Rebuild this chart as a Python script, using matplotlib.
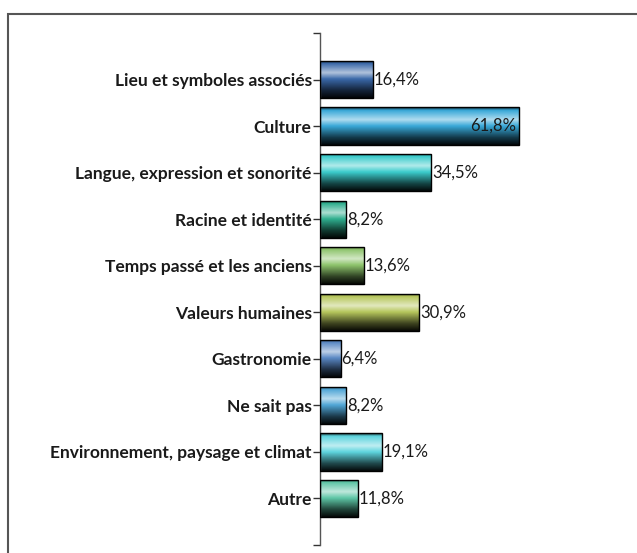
import matplotlib.pyplot as plt
import matplotlib.colors as mcolors
from matplotlib.patches import Rectangle
import numpy as np

categories = [
    "Lieu et symboles associés",
    "Culture",
    "Langue, expression et sonorité",
    "Racine et identité",
    "Temps passé et les anciens",
    "Valeurs humaines",
    "Gastronomie",
    "Ne sait pas",
    "Environnement, paysage et climat",
    "Autre",
]
values = [16.4, 61.8, 34.5, 8.2, 13.6, 30.9, 6.4, 8.2, 19.1, 11.8]
labels = ["16,4%", "61,8%", "34,5%", "8,2%", "13,6%", "30,9%", "6,4%", "8,2%", "19,1%", "11,8%"]
bar_colors = ["#3a68a8", "#38a8d8", "#3ccccc", "#2fae8e", "#8ec46c",
              "#b6c65c", "#5a88c4", "#50a6d6", "#5ed4de", "#5ec6a6"]

plt.rcParams['font.family'] = ['Lato', 'DejaVu Sans']


def gradient_image(color):
    # vertical 3d-ish shading: dark top edge, light highlight, dark bottom
    c = np.array(mcolors.to_rgb(color))
    w = np.array([1.0, 1.0, 1.0])
    stops = [0.0, 0.08, 0.33, 0.5, 0.8, 1.0]
    cols = [c * 0.3, c, c + (w - c) * 0.6, c, c * 0.35, c * 0.05]
    t = np.linspace(0, 1, 64)
    img = np.zeros((64, 1, 3))
    for k in range(3):
        img[:, 0, k] = np.interp(t, stops, [col[k] for col in cols])
    return np.clip(img, 0, 1)


fig = plt.figure(figsize=(6.37, 5.53), dpi=100)
ax = fig.add_axes([320 / 637, 1 - 545 / 553, 317 / 637, 512 / 553])

y = np.arange(len(categories))
bars = ax.barh(y, values, height=0.8, color="none", edgecolor="black", linewidth=1.0, zorder=3)

for bar, col in zip(bars, bar_colors):
    x0, y0 = bar.get_x(), bar.get_y()
    w, h = bar.get_width(), bar.get_height()
    im = ax.imshow(gradient_image(col), extent=[x0, x0 + w, y0 + h, y0],
                   aspect="auto", zorder=2, interpolation="bilinear")
    im.set_clip_path(bar)

for i, (v, lab) in enumerate(zip(values, labels)):
    if v > 50:
        ax.text(v - 1.0, i, lab, ha="right", va="center", fontsize=12, color="#1a1a1a", zorder=4)
    else:
        ax.text(v + 0.3, i, lab, ha="left", va="center", fontsize=12, color="#1a1a1a", zorder=4)

ax.set_xlim(0, 317 / 3.22)
ax.set_ylim(10, -1)
ax.set_yticks(y)
ax.set_yticklabels(categories, fontsize=12.5, fontweight="bold", color="#1a1a1a")
ax.set_yticks([-1, 10], minor=True)
ax.tick_params(axis="y", which="both", length=5, width=1, color="#333333", pad=1)
ax.set_xticks([])
for s in ["top", "right", "bottom"]:
    ax.spines[s].set_visible(False)
ax.spines["left"].set_color("#555555")
ax.spines["left"].set_linewidth(1.0)
ax.set_facecolor("none")

# outer frame
fig.add_artist(Rectangle((8 / 637, -0.05), 1.2, 1.05 - 14 / 553,
                         transform=fig.transFigure, fill=False,
                         edgecolor="#555555", linewidth=1.5))

fig.savefig("out.png", dpi=100)
